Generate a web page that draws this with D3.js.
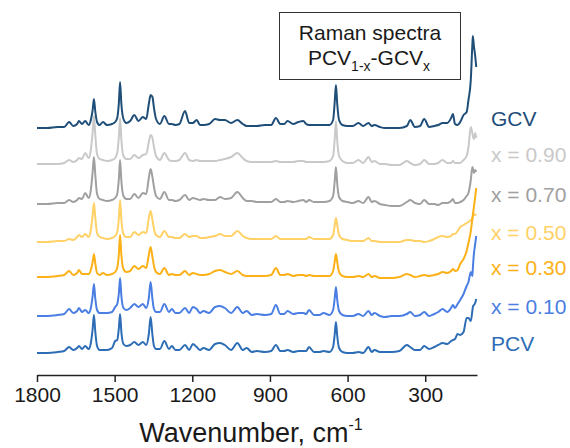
<!DOCTYPE html>
<html>
<head>
<meta charset="utf-8">
<script src="https://cdn.jsdelivr.net/npm/d3@7/dist/d3.min.js"></script>
<style>
  html, body { margin: 0; padding: 0; background: #fff; }
  svg { display: block; font-family: "Liberation Sans", Arial, sans-serif; }
</style>
</head>
<body>
<div id="chart"></div>
<script>
// Raman spectra, PCV(1-x)-GCV(x), stacked with vertical offsets

const wavenumbers = [
  1800, 1760, 1720, 1695, 1676, 1660, 1645, 1638, 1626, 1614,
  1600, 1592, 1585, 1580, 1575, 1568, 1558, 1545, 1530, 1510,
  1498, 1490, 1484, 1479, 1474, 1466, 1455, 1440, 1424, 1408,
  1391, 1378, 1368, 1361, 1354, 1348, 1340, 1325, 1308, 1290,
  1279, 1265, 1250, 1228, 1212, 1198, 1183, 1170, 1157, 1135,
  1112, 1093, 1074, 1050, 1026, 1005, 990, 970, 951, 920,
  895, 877, 860, 845, 832, 810, 790, 771, 760, 749,
  730, 709, 693, 670, 656, 650, 645, 640, 633, 620,
  600, 580, 558, 540, 519, 507, 496, 475, 455, 430,
  400, 371, 358, 340, 320, 304, 285, 265, 250, 233,
  215, 200, 193, 185, 175, 165, 152, 140, 133, 124,
  118, 116, 112, 107, 103
];

const gcv = [
  0, 0, 1, 1, 6, 2, 4, 7, 4, 7,
  3, 8, 18, 29, 17, 6, 3, 6, 3, 4,
  6, 10, 24, 46, 24, 9, 5, 7, 13, 7,
  11, 9, 24, 33, 31, 20, 9, 4, 12, 4,
  4, 3, 4, 17, 5, 5, 8, 3, 3, 4,
  9, 8, 8, 5, 8, 4, 2, 2, 2, 3,
  3, 10, 4, 4, 7, 4, 6, 7, 4, 3,
  3, 3, 3, 3, 8, 25, 43, 24, 8, 3,
  2, 2, 5, 2, 5, 2, 3, 1, 0, 0,
  0, 2, 8, 1, 2, 9, 1, 2, 3, 5,
  5, 10, 14, 4, 3, 6, 13, 16, 28, 48,
  83, 92, 82, 72, 61
];

const x090 = [
  0, 0, 0, 1, 4, 2, 4, 6, 5, 11,
  6, 14, 32, 48, 30, 10, 5, 4, 3, 4,
  6, 11, 26, 46, 24, 8, 5, 5, 9, 6,
  9, 10, 22, 29, 26, 17, 8, 4, 11, 4,
  3, 3, 4, 11, 4, 3, 4, 3, 3, 3,
  3, 4, 5, 7, 11, 6, 3, 2, 2, 2,
  2, 3, 2, 2, 2, 2, 3, 3, 2, 2,
  2, 2, 2, 3, 8, 24, 43, 23, 8, 3,
  1, 1, 4, 1, 7, 2, 3, 0, 0, -1,
  -1, 3, 1, -1, 0, 4, 0, 0, 1, 4,
  1, 1, 3, 1, 1, 1, 4, 8, 17, 37,
  31, 28, 25, 31, 26
];

const x070 = [
  0, 0, 1, 1, 4, 2, 4, 6, 5, 11,
  6, 14, 32, 47, 30, 10, 5, 4, 3, 4,
  6, 10, 24, 44, 23, 8, 5, 5, 10, 6,
  11, 10, 26, 35, 27, 17, 8, 5, 12, 4,
  4, 3, 4, 9, 4, 6, 5, 4, 5, 4,
  4, 7, 5, 6, 12, 6, 3, 3, 2, 2,
  2, 5, 2, 2, 3, 2, 3, 4, 2, 4,
  2, 2, 2, 3, 8, 22, 37, 20, 7, 3,
  2, 1, 3, 1, 7, 2, 3, 0, -1, -2,
  -2, 2, 4, 1, 0, 4, 0, 0, -1, 1,
  1, 3, 5, 1, 1, 2, 4, 8, 11, 24,
  37, 36, 31, 34, 32
];

const x050 = [
  0, 0, 1, 1, 3, 2, 5, 7, 5, 8,
  5, 12, 27, 39, 25, 9, 5, 4, 3, 4,
  6, 10, 23, 42, 22, 8, 5, 5, 10, 7,
  10, 9, 24, 31, 22, 13, 7, 5, 11, 5,
  5, 4, 4, 8, 5, 6, 6, 4, 4, 5,
  6, 8, 6, 6, 11, 6, 4, 3, 3, 3,
  3, 6, 3, 3, 3, 3, 3, 3, 3, 5,
  3, 3, 3, 3, 7, 16, 24, 17, 7, 3,
  2, 1, 1, 1, 4, 1, 1, 0, 0, 0,
  0, 2, 2, 1, 1, 0, 1, 3, 5, 6,
  5, 6, 8, 8, 11, 15, 17, 19, 20, 22,
  24, 26, 28, 27, 28
];

const x030 = [
  0, 0, 1, 2, 6, 2, 4, 7, 3, 3,
  3, 7, 15, 23, 14, 4, 2, 4, 2, 3,
  5, 9, 22, 42, 22, 8, 5, 6, 11, 8,
  11, 9, 22, 30, 20, 11, 5, 3, 9, 2,
  3, 2, 2, 6, 2, 4, 3, 2, 2, 3,
  6, 7, 5, 3, 6, 2, 1, 1, 1, 1,
  2, 9, 2, 2, 3, 1, 2, 2, 1, 2,
  1, 1, 1, 1, 6, 15, 23, 15, 5, 1,
  0, 0, 1, 0, 3, 0, 1, -1, -1, -1,
  0, 3, 2, 0, 1, 2, 1, 2, 3, 5,
  4, 6, 8, 6, 7, 13, 18, 26, 34, 46,
  58, 62, 70, 80, 89
];

const x010 = [
  0, 0, 1, 2, 7, 3, 5, 8, 4, 6,
  3, 8, 20, 32, 18, 6, 3, 3, 3, 4,
  9, 12, 22, 38, 20, 8, 6, 8, 12, 9,
  12, 8, 18, 34, 17, 7, 4, 4, 12, 4,
  7, 3, 3, 8, 3, 9, 7, 3, 5, 3,
  9, 10, 8, 3, 9, 3, 5, 1, 2, 1,
  2, 11, 2, 2, 5, 2, 3, 3, 2, 6,
  1, 1, 3, 1, 6, 17, 29, 16, 5, 1,
  0, 0, 2, 0, 5, 1, 3, 0, -1, 0,
  0, 2, 4, 0, 1, 4, 0, 2, 4, 7,
  4, 8, 11, 8, 12, 16, 22, 30, 34, 44,
  40, 48, 62, 72, 80
];

const pcv = [
  0, 0, 1, 2, 6, 3, 5, 7, 4, 7,
  4, 10, 24, 38, 22, 7, 3, 3, 3, 5,
  12, 13, 24, 39, 21, 9, 7, 8, 11, 8,
  11, 8, 19, 36, 18, 7, 4, 4, 12, 4,
  7, 3, 3, 8, 3, 9, 6, 3, 5, 3,
  9, 10, 8, 3, 10, 3, 5, 1, 2, 1,
  2, 8, 2, 2, 3, 1, 2, 2, 2, 6,
  1, 1, 2, 1, 6, 18, 31, 17, 5, 1,
  0, 0, 1, 0, 6, 1, 3, 1, 1, 1,
  2, 8, 6, 3, 3, 7, 4, 6, 8, 10,
  9, 12, 13, 14, 19, 18, 21, 35, 35, 32,
  42, 46, 48, 50, 54
];

const seriesNames = ['GCV', 'x = 0.90', 'x = 0.70', 'x = 0.50', 'x = 0.30', 'x = 0.10', 'PCV'];
const seriesValues = [gcv, x090, x070, x050, x030, x010, pcv];
const stackOffsets = [247, 211, 171, 133, 98, 59, 22];
const xTicks = [1800, 1500, 1200, 900, 600, 300];

const colors = ['#1f4e79', '#c9c9c9', '#a0a0a0', '#ffd166', '#fbb117', '#4a7ee3', '#2c6db5'];

const width = 570, height = 448;

const svg = d3.select('#chart').append('svg')
  .attr('width', width)
  .attr('height', height);

const x = d3.scaleLinear().domain([1800, 100]).range([37, 477]);
const y = d3.scaleLinear().domain([0, 340]).range([375, 35]);

const series = seriesNames.map((name, i) => ({
  name,
  color: colors[i],
  offset: stackOffsets[i],
  points: wavenumbers.map((w, j) => ({ w, v: seriesValues[i][j] + stackOffsets[i] }))
}));

const line = d3.line()
  .x(d => x(d.w))
  .y(d => y(d.v))
  .curve(d3.curveMonotoneX);

svg.append('g')
  .selectAll('path')
  .data(series)
  .join('path')
  .attr('d', d => line(d.points))
  .attr('fill', 'none')
  .attr('stroke', d => d.color)
  .attr('stroke-width', 2)
  .attr('stroke-linejoin', 'round');

// series labels on the right
svg.append('g')
  .selectAll('text')
  .data(series)
  .join('text')
  .attr('x', 491)
  .attr('y', d => y(d.offset) - 2)
  .attr('fill', d => d.color)
  .attr('font-size', 21)
  .text(d => d.name);

// x axis
const xAxis = d3.axisBottom(x)
  .tickValues(xTicks)
  .tickFormat(d3.format('d'))
  .tickSize(7)
  .tickSizeOuter(0)
  .tickPadding(5);

const gx = svg.append('g')
  .attr('transform', `translate(0,${y(0)})`)
  .call(xAxis);
gx.select('.domain').attr('stroke', '#222').attr('stroke-width', 1.5);
gx.selectAll('.tick line').attr('stroke', '#222').attr('stroke-width', 1.5);
gx.selectAll('.tick text')
  .attr('font-size', 21)
  .attr('font-family', '"Liberation Sans", Arial, sans-serif')
  .attr('fill', '#1a1a1a');

const title = svg.append('text')
  .attr('x', 251)
  .attr('y', 442)
  .attr('text-anchor', 'middle')
  .attr('font-size', 27)
  .attr('fill', '#1a1a1a');
title.append('tspan').text('Wavenumber, cm');
title.append('tspan').attr('font-size', 16).attr('dy', -12).text('-1');

// annotation box
svg.append('rect')
  .attr('x', 279.5).attr('y', 12.5)
  .attr('width', 181).attr('height', 67)
  .attr('fill', '#fff')
  .attr('stroke', '#333')
  .attr('stroke-width', 1);

svg.append('text')
  .attr('x', 370).attr('y', 40)
  .attr('text-anchor', 'middle')
  .attr('font-size', 21)
  .attr('fill', '#1a1a1a')
  .text('Raman spectra');

const sub = svg.append('text')
  .attr('x', 369).attr('y', 65)
  .attr('text-anchor', 'middle')
  .attr('font-size', 21)
  .attr('fill', '#1a1a1a');
sub.append('tspan').text('PCV');
sub.append('tspan').attr('font-size', 14).attr('dy', 6).text('1-x');
sub.append('tspan').attr('dy', -6).text('-GCV');
sub.append('tspan').attr('font-size', 14).attr('dy', 6).text('x');
</script>
</body>
</html>
